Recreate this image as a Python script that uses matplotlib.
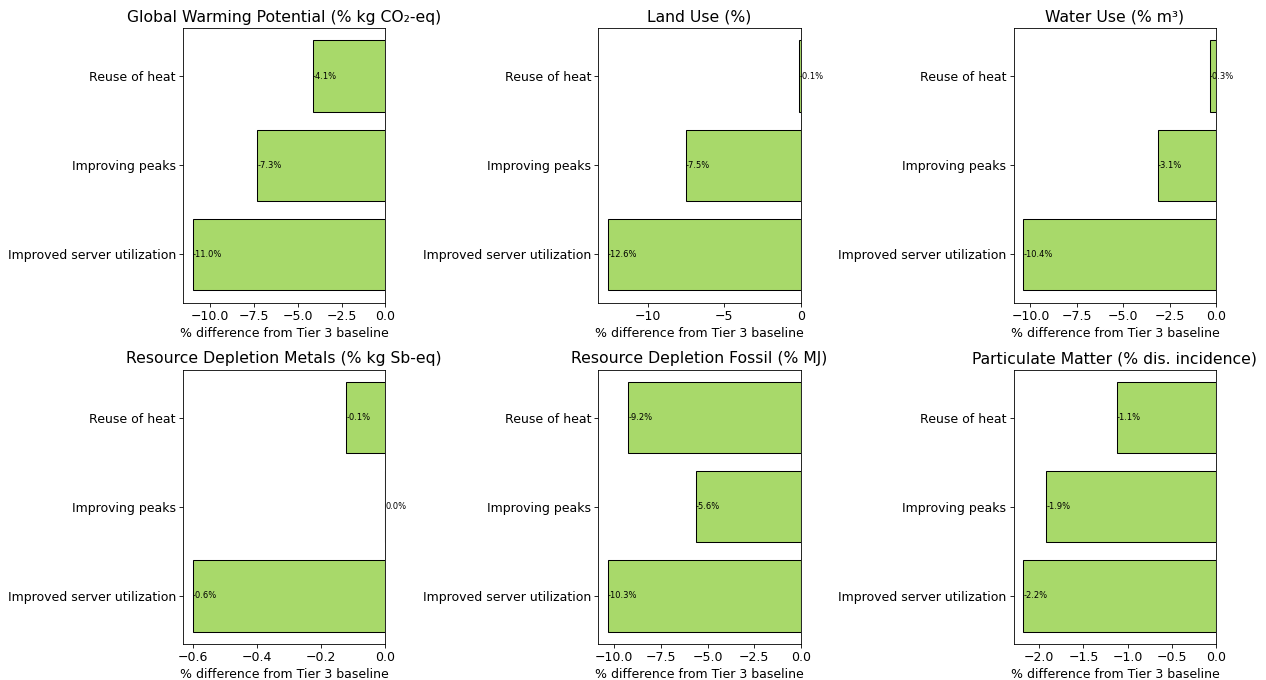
import numpy as np
import matplotlib
matplotlib.use('Agg')
from matplotlib import pyplot as plt

strategies = ['Improved server utilization', 'Improving peaks', 'Reuse of heat']

titles = ['Global Warming Potential (% kg CO₂-eq)',
          'Land Use (%)',
          'Water Use (% m³)',
          'Resource Depletion Metals (% kg Sb-eq)',
          'Resource Depletion Fossil (% MJ)',
          'Particulate Matter (% dis. incidence)']

# values ordered like strategies (bottom to top)
gwp = [-11.0, -7.3, -4.13]
land_use = [-12.6, -7.53, -0.08]
water_use = [-10.38, -3.14, -0.34]
metals = [-0.6, 0.0, -0.121]
fossil = [-10.34, -5.62, -9.25]
particulate = [-2.18, -1.92, -1.125]

all_values = [gwp, land_use, water_use, metals, fossil, particulate]

bar_color = '#a8d96a'

dpi = 75
fig, axes = plt.subplots(2, 3, figsize=(1266 / dpi, 680 / dpi), dpi=dpi)
plt.subplots_adjust(left=0.1446, right=0.9605, top=0.9588, bottom=0.0529,
                    wspace=1.054, hspace=0.244)

for ax, title, values in zip(axes.flat, titles, all_values):
    bars = ax.barh(strategies, values, color=bar_color, edgecolor='black')
    for bar, v in zip(bars, values):
        ax.text(bar.get_width(), bar.get_y() + bar.get_height() / 2,
                f'{v:.1f}%', ha='left', va='center', fontsize=8)
    ax.set_title(title, fontsize=15)
    ax.set_xlabel('% difference from Tier 3 baseline', fontsize=12)
    ax.tick_params(labelsize=12)

plt.savefig('out.png', dpi=dpi)
